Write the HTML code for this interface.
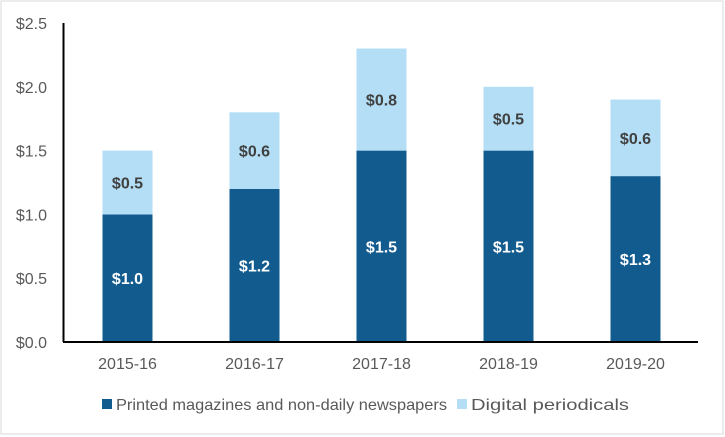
<!DOCTYPE html>
<html><head><meta charset="utf-8"><style>
body{margin:0;background:#fff;}
svg{display:block;font-family:"Liberation Sans",Arial,sans-serif;}
</style></head><body>
<svg id="c" width="725" height="437" viewBox="0 0 725 437">
<rect x="1" y="1" width="722" height="433" fill="#fff" stroke="#d9d9d9"/>
<g id="yt"></g>
<g id="bars"></g>
<line x1="63.5" y1="23" x2="63.5" y2="342" stroke="#000" stroke-width="2"/>
<line x1="63" y1="342" x2="698" y2="342" stroke="#000" stroke-width="2"/>
<g>
<rect x="102" y="399" width="10" height="10" fill="#125b8f"/>
<text x="116" y="410" font-size="16" textLength="331" lengthAdjust="spacingAndGlyphs" fill="#595959">Printed magazines and non-daily newspapers</text>
<rect x="457" y="399" width="10" height="10" fill="#b3def5"/>
<text x="471" y="410" font-size="16" textLength="158" lengthAdjust="spacingAndGlyphs" fill="#595959">Digital periodicals</text>
</g>
</svg>
<script>
const categories=["2015-16","2016-17","2017-18","2018-19","2019-20"];
const printed=[1.0,1.2,1.5,1.5,1.3];
const digital=[0.5,0.6,0.8,0.5,0.6];
const yTicks=[0,0.5,1.0,1.5,2.0,2.5];
const NS="http://www.w3.org/2000/svg";
const x0=64,bw=127,y0=342,ppu=(342-23)/2.5;
const y=v=>y0-v*ppu;
function mk(t,a,p){const e=document.createElementNS(NS,t);for(const k in a)e.setAttribute(k,a[k]);p.appendChild(e);return e;}
const yt=document.getElementById('yt'),bars=document.getElementById('bars');
yTicks.forEach(v=>{
 const t=mk('text',{x:47,y:y(v)+6,'text-anchor':'end','font-size':16,fill:'#595959'},yt);
 
 
 t.textContent='$'+v.toFixed(1);
});
categories.forEach((c,i)=>{
 const cx=x0+bw*(i+0.5);
 const r1=mk('rect',{x:cx-25,y:y(printed[i]),width:50,height:printed[i]*ppu,fill:'#125b8f'},bars);
 
 
 const r2=mk('rect',{x:cx-25,y:y(printed[i]+digital[i]),width:50,height:digital[i]*ppu,fill:'#b3def5'},bars);
 
 
 const l1=mk('text',{x:cx,y:y(printed[i]/2)+6,'text-anchor':'middle','font-size':16,'font-weight':'bold',fill:'#fff'},bars);
 
 
 l1.textContent='$'+printed[i].toFixed(1);
 const l2=mk('text',{x:cx,y:y(printed[i]+digital[i]/2)+6,'text-anchor':'middle','font-size':16,'font-weight':'bold',fill:'#404040'},bars);
 
 
 l2.textContent='$'+digital[i].toFixed(1);
 const xl=mk('text',{x:cx,y:369,'text-anchor':'middle','font-size':16,fill:'#595959'},bars);
 
 
 xl.textContent=c;
});
</script>
</body></html>
